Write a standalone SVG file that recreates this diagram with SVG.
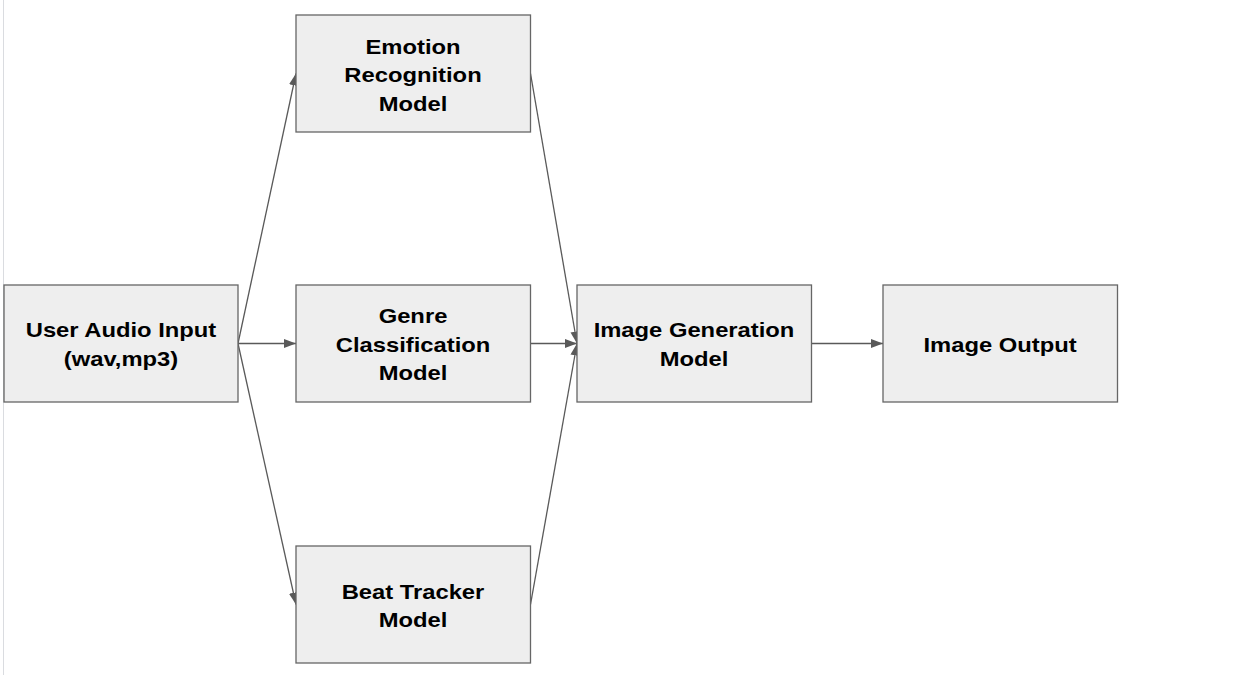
<svg xmlns="http://www.w3.org/2000/svg" width="1233" height="675" viewBox="0 0 1233 675">
<style>
.box{fill:#eeeeee;stroke:#666666;stroke-width:1.3}
.lbl{font-family:"Liberation Sans",Arial,sans-serif;font-weight:bold;font-size:20.5px;fill:#000;text-anchor:middle}
.conn{stroke:#595959;stroke-width:1.3;fill:none;marker-end:url(#ah)}
</style>
<defs>
<marker id="ah" markerUnits="userSpaceOnUse" markerWidth="12" markerHeight="10" refX="12" refY="4.5" orient="auto">
<path d="M0,0 L12,4.5 L0,9 z" fill="#595959"/>
</marker>
</defs>
<rect x="0" y="0" width="1233" height="675" fill="#ffffff"/>
<line x1="3.5" y1="0" x2="3.5" y2="675" stroke="#dadce0" stroke-width="1"/>
<g id="connectors">
<line class="conn" x1="238" y1="343.5" x2="296" y2="73.5"/>
<line class="conn" x1="238" y1="343.5" x2="296" y2="343.5"/>
<line class="conn" x1="238" y1="343.5" x2="296" y2="604.5"/>
<line class="conn" x1="530.5" y1="73.5" x2="577" y2="343.5"/>
<line class="conn" x1="530.5" y1="343.5" x2="577" y2="343.5"/>
<line class="conn" x1="530.5" y1="604.5" x2="577" y2="343.5"/>
<line class="conn" x1="811.5" y1="343.5" x2="883" y2="343.5"/>
</g>
<g id="user-audio-input">
<rect class="box" x="4" y="285" width="234" height="117"/>
<g transform="translate(121,0) scale(1.16,1)"><text class="lbl" x="0" y="337.5">User Audio Input</text><text class="lbl" x="0" y="366">(wav,mp3)</text></g>
</g>
<g id="emotion-recognition">
<rect class="box" x="296" y="15" width="234.5" height="117"/>
<g transform="translate(413,0) scale(1.16,1)"><text class="lbl" x="0" y="54">Emotion</text><text class="lbl" x="0" y="82.5">Recognition</text><text class="lbl" x="0" y="111">Model</text></g>
</g>
<g id="genre-classification">
<rect class="box" x="296" y="285" width="234.5" height="117"/>
<g transform="translate(413,0) scale(1.16,1)"><text class="lbl" x="0" y="323.5">Genre</text><text class="lbl" x="0" y="352">Classification</text><text class="lbl" x="0" y="380.5">Model</text></g>
</g>
<g id="beat-tracker">
<rect class="box" x="296" y="546" width="234.5" height="117"/>
<g transform="translate(413,0) scale(1.16,1)"><text class="lbl" x="0" y="599">Beat Tracker</text><text class="lbl" x="0" y="627.5">Model</text></g>
</g>
<g id="image-generation">
<rect class="box" x="577" y="285" width="234.5" height="117"/>
<g transform="translate(694,0) scale(1.16,1)"><text class="lbl" x="0" y="337.5">Image Generation</text><text class="lbl" x="0" y="366">Model</text></g>
</g>
<g id="image-output">
<rect class="box" x="883" y="285" width="234.5" height="117"/>
<g transform="translate(1000,0) scale(1.16,1)"><text class="lbl" x="0" y="352">Image Output</text></g>
</g>
</svg>
